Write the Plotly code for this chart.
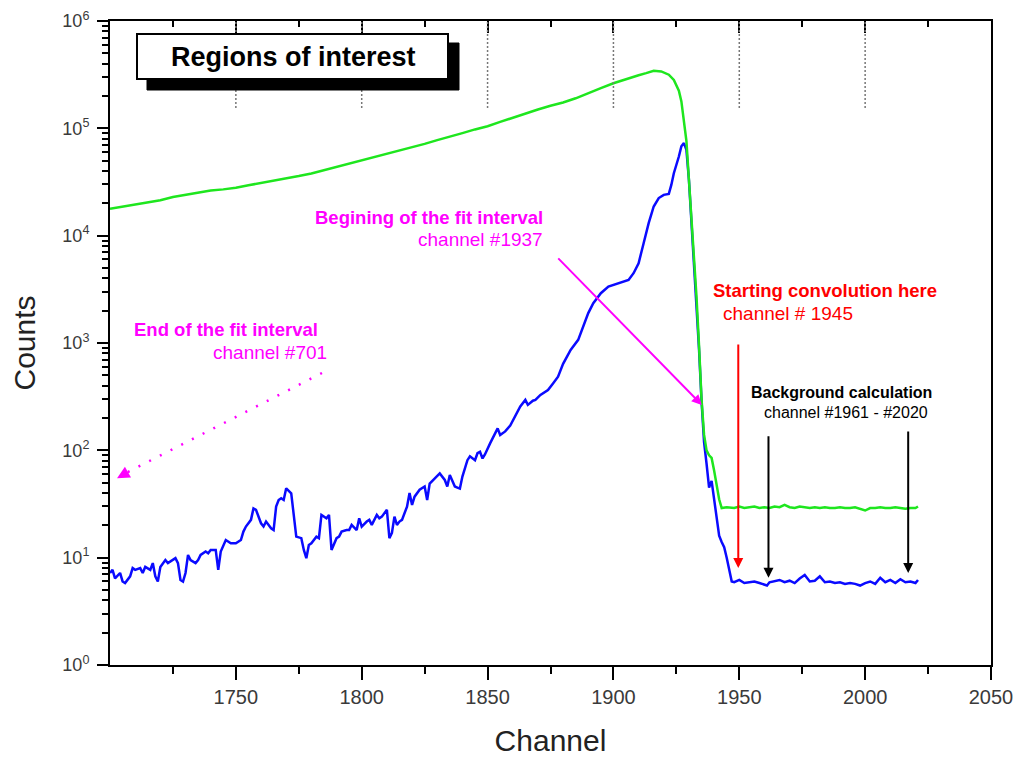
import numpy as np
import plotly.graph_objects as go

# ---------------- data ----------------
blue_channel = [
    1700, 1701, 1702, 1704, 1705, 1706, 1708, 1709, 1710, 1712,
    1713, 1714, 1716, 1717, 1718, 1719, 1720, 1722, 1723, 1724,
    1726, 1727, 1728, 1729, 1730, 1731, 1732, 1734, 1735, 1736,
    1738, 1739, 1740, 1742, 1743, 1744, 1745, 1746, 1748, 1749,
    1750, 1752, 1753, 1754, 1756, 1757, 1758, 1760, 1761, 1762,
    1764, 1765, 1766, 1767, 1768, 1769, 1770, 1772, 1773, 1774,
    1776, 1777, 1778, 1779, 1780, 1782, 1783, 1784, 1786, 1787,
    1788, 1790, 1791, 1792, 1794, 1795, 1796, 1798, 1799, 1800,
    1802, 1803, 1804, 1806, 1807, 1808, 1810, 1811, 1812, 1813,
    1814, 1815, 1816, 1818, 1819, 1820, 1821, 1822, 1823, 1825,
    1826, 1827, 1829, 1830, 1831, 1833, 1834, 1835, 1837, 1838,
    1839, 1840, 1841, 1842, 1843, 1845, 1846, 1847, 1848, 1849,
    1851, 1854, 1855, 1857, 1859, 1861, 1863, 1865, 1866, 1868,
    1869, 1871, 1874, 1876, 1878, 1880, 1883, 1886, 1888, 1890,
    1892, 1895, 1898, 1900, 1903, 1906, 1908, 1910, 1912, 1914,
    1916, 1918, 1920, 1922, 1923, 1924, 1926, 1927, 1928, 1929,
    1930, 1931, 1932, 1933, 1934, 1935, 1936, 1937, 1938, 1939,
    1940, 1941, 1942, 1943, 1944, 1945, 1946, 1947, 1948, 1950,
    1952, 1954, 1956, 1958, 1960, 1961, 1962, 1964, 1966, 1968,
    1970, 1972, 1974, 1976, 1978, 1980, 1982, 1984, 1986, 1988,
    1990, 1992, 1994, 1996, 1998, 2000, 2002, 2004, 2006, 2008,
    2010, 2012, 2014, 2016, 2018, 2020, 2021,
]
blue_counts = [
    7.2, 7.7, 6.4, 7.2, 6.0, 5.8, 6.7, 8.0, 7.7, 8.0,
    7.2, 8.2, 7.7, 8.9, 6.7, 6.0, 8.2, 9.5, 8.9, 9.2,
    9.9, 8.9, 6.2, 6.0, 7.2, 10.6, 9.5, 8.9, 9.5, 10.6,
    11.4, 11.0, 11.8, 11.8, 7.7, 11.4, 12.7, 14.6, 13.6, 13.6,
    13.6, 14.6, 17.5, 19.5, 22.5, 28.8, 27.9, 20.9, 19.5, 21.7,
    18.8, 18.1, 29.9, 34.5, 35.8, 34.5, 44.3, 39.8, 24.1, 15.7,
    15.2, 11.8, 9.9, 13.1, 13.6, 15.7, 15.2, 25.0, 23.3, 25.0,
    11.8, 15.2, 15.7, 17.5, 18.1, 18.1, 20.2, 18.1, 23.3, 19.5,
    21.7, 22.5, 20.2, 25.0, 23.3, 24.1, 27.9, 15.2, 17.0, 24.1,
    20.2, 21.7, 22.5, 29.9, 40, 31, 37, 40, 43, 46,
    34.5, 49, 55, 57, 61, 53, 46, 59, 46, 45,
    44, 57, 70, 81, 88, 81, 94, 97, 84, 92,
    116, 160, 139, 150, 170, 206, 256, 295, 265, 290,
    295, 328, 365, 420, 486, 640, 862, 1070, 1420, 1900,
    2350, 2910, 3360, 3480, 3610, 3870, 4470, 5540, 8510, 13100,
    18700, 22400, 24000, 24500, 29700, 38200, 54600, 68000, 72800, 63000,
    33000, 14000, 5800, 2600, 880, 290, 120, 75, 45, 52,
    35, 22, 16, 14, 12.5, 10, 7.7, 6.0, 5.9, 6.2,
    5.8, 5.9, 6.0, 5.8, 5.6, 5.5, 5.9, 6.0, 6.2, 5.9,
    6.1, 5.8, 6.4, 6.9, 6.0, 6.1, 6.7, 5.9, 6.0, 5.8,
    5.9, 5.7, 5.8, 5.7, 5.5, 5.8, 6.0, 5.7, 6.5, 5.9,
    6.2, 5.8, 6.3, 5.9, 6.0, 5.8, 6.2,
]

green_channel = [
    1700, 1705, 1710, 1715, 1720, 1725, 1730, 1735, 1740, 1745,
    1750, 1755, 1760, 1765, 1770, 1775, 1780, 1785, 1790, 1795,
    1800, 1805, 1810, 1815, 1820, 1825, 1830, 1835, 1840, 1845,
    1850, 1855, 1860, 1865, 1870, 1875, 1880, 1885, 1890, 1895,
    1900, 1905, 1910, 1913, 1916, 1919, 1922, 1924, 1925, 1926,
    1927, 1928, 1929, 1930, 1931, 1932, 1933, 1934, 1935, 1936,
    1937, 1938, 1939, 1940, 1941, 1942, 1943, 1945, 1948, 1950,
    1952, 1954, 1956, 1958, 1960, 1962, 1964, 1966, 1968, 1970,
    1972, 1974, 1976, 1978, 1980, 1982, 1984, 1986, 1988, 1990,
    1992, 1994, 1996, 1998, 2000, 2002, 2004, 2006, 2008, 2010,
    2012, 2014, 2016, 2018, 2020, 2021,
]
green_counts = [
    17800, 18600, 19500, 20400, 21400, 22900, 24000, 25100, 26300, 27000,
    27900, 29500, 30900, 32400, 33900, 35900, 38000, 40700, 43600, 46800,
    50100, 53700, 57500, 61700, 66100, 71600, 77600, 83200, 90200, 97700,
    104700, 114800, 125900, 138000, 149600, 162200, 174000, 190500, 213800, 237000,
    263000, 288400, 312600, 327000, 343600, 338800, 316000, 282000, 254000, 224000,
    178000, 120000, 76000, 33000, 15000, 6200, 2700, 950, 300, 140,
    100, 90, 85, 65, 46, 35, 29, 29.5, 29, 30,
    29, 29.5, 30, 29, 29.5, 29, 30, 29.5, 31, 29.5,
    29, 30, 29.5, 29, 29.5, 29, 29.5, 29, 29, 29.5,
    29, 29, 29.5, 28.5, 27.5, 29, 29, 29.5, 29, 29,
    29.5, 29, 28.5, 29, 29, 30,
]

x_major = [1750, 1800, 1850, 1900, 1950, 2000, 2050]
x_minor = [1725, 1775, 1825, 1875, 1925, 1975, 2025]
y_major = [1, 10, 100, 1000, 10000, 100000, 1000000]
y_labels = ["10<sup>0</sup>", "10<sup>1</sup>", "10<sup>2</sup>", "10<sup>3</sup>",
            "10<sup>4</sup>", "10<sup>5</sup>", "10<sup>6</sup>"]
y_minor = [m * 10 ** k for k in range(6) for m in range(2, 10)]

# ---------------- layout geometry helpers ----------------
# target plot area in window pixels: x 110..991, y 21..665
# the page body adds an 8 px offset, so the figure is sized/placed accordingly
OFF = 8
WIN_W, WIN_H = 1022, 758
PLOT_L, PLOT_R, PLOT_T, PLOT_B = 110, 991, 21, 665
W, H = WIN_W - OFF, WIN_H - OFF
L, T = PLOT_L - OFF, PLOT_T - OFF
R, B = W - (PLOT_R - OFF), H - (PLOT_B - OFF)
PW, PH = PLOT_R - PLOT_L, PLOT_B - PLOT_T


def px(xpix):
    return (xpix - PLOT_L) / PW


def py(ypix):
    return (PLOT_B - ypix) / PH


FONT = "Liberation Sans, Arial, Helvetica, sans-serif"
MAGENTA = "#ff00ff"
RED = "#ff0000"

fig = go.Figure()
fig.add_trace(go.Scatter(x=blue_channel, y=blue_counts, mode="lines",
                         line=dict(color="#0a0aff", width=2.5), showlegend=False))
fig.add_trace(go.Scatter(x=green_channel, y=green_counts, mode="lines",
                         line=dict(color="#1ee61e", width=2.5), showlegend=False))
# invisible trace so the top (mirror) axis is drawn
fig.add_trace(go.Scatter(x=green_channel, y=green_counts, xaxis="x2", mode="lines",
                         line=dict(width=0), opacity=0, hoverinfo="skip",
                         showlegend=False))

tickfont = dict(family=FONT, size=20, color="#3a3a3a")

fig.update_layout(
    width=W, height=H, autosize=False,
    margin=dict(l=L, r=R, t=T, b=B),
    paper_bgcolor="white", plot_bgcolor="white",
    template="none",
    showlegend=False,
    xaxis=dict(
        range=[1700, 2050], tickmode="array", tickvals=x_major,
        ticks="outside", ticklen=13, tickwidth=2, tickcolor="black",
        showline=True, linecolor="black", linewidth=2, mirror=False,
        showgrid=False, zeroline=False, automargin=False,
        tickfont=tickfont, ticklabelstandoff=0,
        minor=dict(ticks="outside", ticklen=7, tickwidth=2, tickcolor="black",
                   tickmode="array", tickvals=x_minor, showgrid=False),
        title=dict(text="Channel", font=dict(family=FONT, size=30, color="#222"),
                   standoff=23),
    ),
    xaxis2=dict(
        range=[1700, 2050], overlaying="x", side="top", anchor="y",
        tickmode="array", tickvals=x_major[:-1],
        ticks="inside", ticklen=12, tickwidth=2, tickcolor="black",
        showticklabels=False, showline=True, linecolor="black", linewidth=2,
        showgrid=False, zeroline=False, automargin=False,
        minor=dict(ticks="inside", ticklen=6, tickwidth=2, tickcolor="black",
                   tickmode="array", tickvals=x_minor, showgrid=False),
    ),
    yaxis=dict(
        type="log", range=[0, 6], tickmode="array", tickvals=y_major,
        ticktext=y_labels,
        ticks="outside", ticklen=11, tickwidth=2, tickcolor="black",
        showline=True, linecolor="black", linewidth=2, mirror=True,
        showgrid=False, zeroline=False, automargin=False,
        tickfont=dict(family=FONT, size=18, color="#3a3a3a"), ticklabelstandoff=4,
        minor=dict(ticks="outside", ticklen=6, tickwidth=1.5, tickcolor="black",
                   tickmode="array", tickvals=y_minor, showgrid=False),
        title=dict(text="Counts", font=dict(family=FONT, size=30, color="#222"),
                   standoff=22),
    ),
)

shapes = []
# dotted guide lines hanging from the top ticks
for t in x_major[:-1]:
    shapes.append(dict(type="line", xref="x", yref="paper", x0=t, x1=t,
                       y0=py(108), y1=1,
                       line=dict(color="#777", width=1.5, dash="2px,2px")))
# title box shadow and box
shapes.append(dict(type="rect", xref="paper", yref="paper",
                   x0=px(147), x1=px(459), y0=py(90), y1=py(43),
                   fillcolor="black", line=dict(color="black", width=1)))
shapes.append(dict(type="rect", xref="paper", yref="paper",
                   x0=px(137), x1=px(448), y0=py(79), y1=py(34),
                   fillcolor="white", line=dict(color="black", width=2)))
# dotted magenta arrow shaft ("End of the fit interval")
shapes.append(dict(type="line", xref="paper", yref="paper",
                   x0=px(322), y0=py(373), x1=px(126), y1=py(473),
                   line=dict(color=MAGENTA, width=2.5, dash="2px,10px")))
fig.update_layout(shapes=shapes)

ann = []
ann.append(dict(text="<b>Regions of interest</b>", xref="paper", yref="paper",
                x=px(293), y=py(57), showarrow=False, xanchor="center",
                yanchor="middle", font=dict(family=FONT, size=27, color="black")))


def label(text, xpix, ypix, color, size):
    ann.append(dict(text=text, xref="paper", yref="paper", x=px(xpix), y=py(ypix),
                    showarrow=False, xanchor="left", yanchor="middle",
                    font=dict(family=FONT, size=size, color=color)))


label("<b>Begining of the fit interval</b>", 313, 217, MAGENTA, 18.5)
label("channel #1937", 416, 239, MAGENTA, 19)
label("<b>End of the fit interval</b>", 132, 329, MAGENTA, 18.5)
label("channel #701", 211, 352, MAGENTA, 19)
label("<b>Starting convolution here</b>", 711, 290, RED, 18.5)
label("channel # 1945", 721, 313, RED, 19)
label("<b>Background calculation</b>", 749, 392, "black", 16)
label("channel #1961 - #2020", 762, 412, "black", 16)


def arrow(xch, ycount, ax, ay, color, width=2):
    ann.append(dict(text="", xref="x", yref="y", x=xch, y=np.log10(ycount),
                    axref="pixel", ayref="pixel", ax=ax, ay=ay, showarrow=True,
                    arrowhead=2, arrowsize=1, arrowwidth=width, arrowcolor=color))


arrow(1935.1, 265, -145, -148, MAGENTA)          # begin of fit interval
arrow(1702.8, 55, 9, -5, MAGENTA, 2.5)             # end of fit interval (head)
arrow(1949.6, 8.0, 0, -225, RED)                   # starting convolution
arrow(1961.6, 6.5, 0, -143, "black")               # background start
arrow(2017.1, 7.2, 0, -143, "black")               # background end

fig.update_layout(annotations=ann)

fig.write_html("out.html")
